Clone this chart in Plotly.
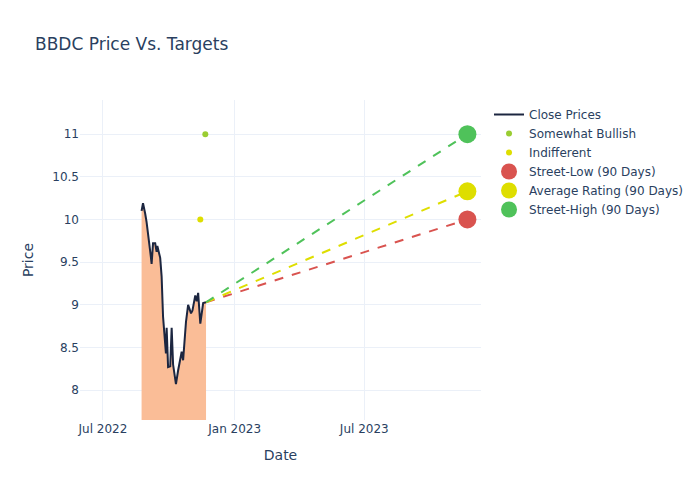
from plotly import graph_objects as go
import pandas as pd

ticker = 'BBDC'

closeDates = ['2022-08-24', '2022-08-26', '2022-08-29', '2022-08-31', '2022-09-06', '2022-09-07',
              '2022-09-09', '2022-09-12', '2022-09-14', '2022-09-15', '2022-09-19', '2022-09-21',
              '2022-09-23', '2022-09-27', '2022-09-28', '2022-09-30', '2022-10-03', '2022-10-05',
              '2022-10-07', '2022-10-10', '2022-10-11', '2022-10-14', '2022-10-18', '2022-10-19',
              '2022-10-21', '2022-10-25', '2022-10-28', '2022-11-01', '2022-11-03', '2022-11-07',
              '2022-11-09', '2022-11-11', '2022-11-14', '2022-11-17', '2022-11-18', '2022-11-22']
closes = [10.10, 10.19, 10.07, 9.97, 9.56, 9.48,
          9.72, 9.72, 9.62, 9.69, 9.55, 9.33,
          8.86, 8.43, 8.73, 8.27, 8.28, 8.73,
          8.30, 8.12, 8.07, 8.23, 8.40, 8.45,
          8.35, 8.80, 9.00, 8.90, 8.93, 9.11,
          9.04, 9.14, 8.78, 9.00, 9.02, 9.03]

ratingNames = ['Somewhat Bullish', 'Indifferent']
ratingDates = ['2022-11-21', '2022-11-14']
ratingValues = [11, 10]
ratingColors = ['yellowgreen', '#dede00']

targetDate = '2023-11-22'
targetNames = ['Street-Low (90 Days)', 'Average Rating (90 Days)', 'Street-High (90 Days)']
targetValues = [10.0, 10.33, 11.0]
targetColors = ['#d9534f', '#dede00', '#4fc25a']

fig = go.Figure()

# shaded area under the close, kept out of the legend
fig.add_trace(go.Scatter(x=pd.to_datetime(closeDates), y=closes, mode='none', showlegend=False,
                         fill='tozeroy', fillcolor='#fabd97', hoverinfo='skip'))
fig.add_trace(go.Scatter(x=pd.to_datetime(closeDates), y=closes, mode='lines', name='Close Prices',
                         line=dict(color='#1c2640', width=2)))

for name, d, v, c in zip(ratingNames, ratingDates, ratingValues, ratingColors):
    fig.add_trace(go.Scatter(x=[pd.to_datetime(d)], y=[v], mode='markers', name=name,
                             marker=dict(color=c, size=6)))

# dashed lines from last close to each target
for name, v, c in zip(targetNames, targetValues, targetColors):
    fig.add_trace(go.Scatter(x=[pd.to_datetime(closeDates[-1]), pd.to_datetime(targetDate)],
                             y=[closes[-1], v], mode='lines', showlegend=False,
                             line=dict(color=c, dash='dash', width=2)))

for name, v, c in zip(targetNames, targetValues, targetColors):
    fig.add_trace(go.Scatter(x=[pd.to_datetime(targetDate)], y=[v], mode='markers', name=name,
                             marker=dict(color=c, size=18)))

fig.update_layout(template='plotly_white', width=700, height=500,
                  font=dict(family='DejaVu Sans'),
                  title=dict(text=ticker + ' Price Vs. Targets'),
                  xaxis=dict(title='Date', range=['2022-05-30', '2023-12-11'], dtick='M6',
                             tickformat='%b %Y'),
                  yaxis=dict(title='Price', range=[7.65, 11.4]))

# page without body margin so the figure sits at the window corner
fig.write_html('out.html', config={'displayModeBar': False},
               post_script="document.body.style.margin='0';")
